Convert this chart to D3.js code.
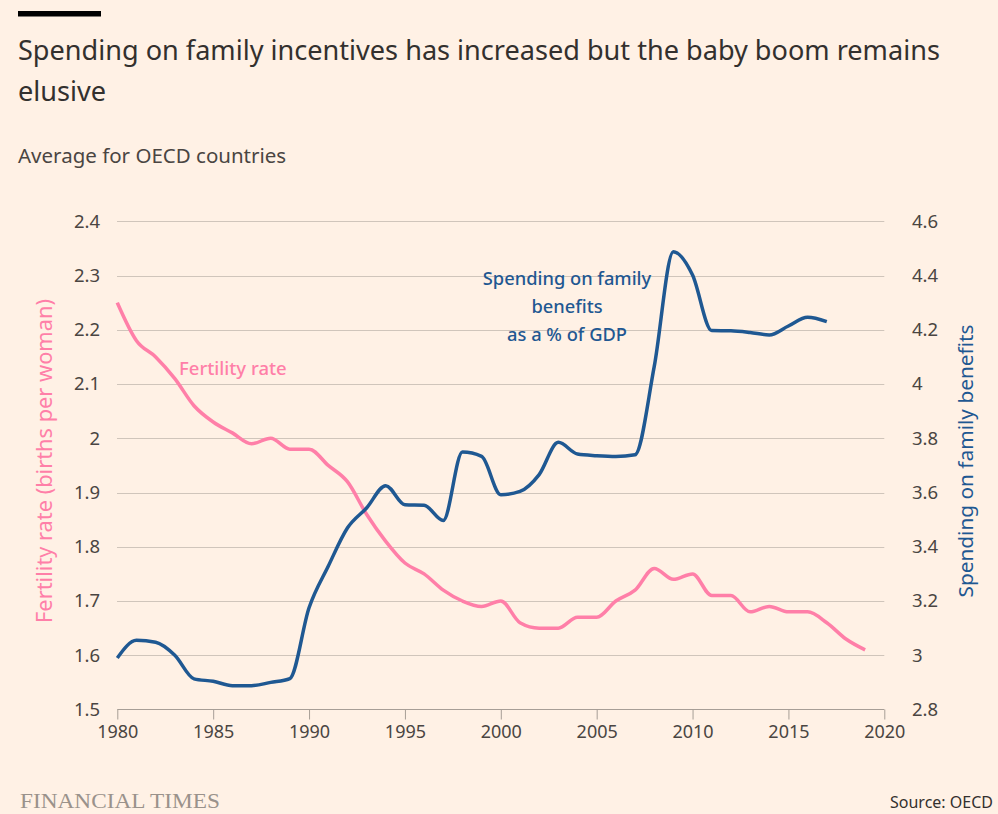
<!DOCTYPE html>
<html>
<head>
<meta charset="utf-8">
<script src="https://cdn.jsdelivr.net/npm/d3@7"></script>
<style>
  html, body { margin: 0; padding: 0; background: #fff1e5; }
  svg { display: block; }
</style>
</head>
<body>
<svg id="chart" width="998" height="814"></svg>
<script>
// ---- Data ----
const years = d3.range(1980, 2020);
const fertility = [2.25, 2.18, 2.15, 2.11, 2.06, 2.03, 2.01, 1.99, 2.00, 1.98,
                   1.98, 1.95, 1.92, 1.86, 1.81, 1.77, 1.75, 1.72, 1.70, 1.69,
                   1.70, 1.66, 1.65, 1.65, 1.67, 1.67, 1.70, 1.72, 1.76, 1.74,
                   1.75, 1.71, 1.71, 1.68, 1.69, 1.68, 1.68, 1.66, 1.63, 1.61];
const spendingYears = d3.range(1980, 2018);
const spending = [2.99, 3.055, 3.048, 3.00, 2.913, 2.904, 2.888, 2.888, 2.90, 2.914,
                  3.175, 3.328, 3.469, 3.543, 3.625, 3.555, 3.553, 3.497, 3.749, 3.733,
                  3.592, 3.604, 3.666, 3.785, 3.742, 3.736, 3.733, 3.739, 4.064, 4.488,
                  4.402, 4.197, 4.196, 4.19, 4.181, 4.214, 4.246, 4.23];
const xTicks = [1980, 1985, 1990, 1995, 2000, 2005, 2010, 2015, 2020];
const leftTicks = [1.5, 1.6, 1.7, 1.8, 1.9, 2.0, 2.1, 2.2, 2.3, 2.4];
const rightTicks = [2.8, 3.0, 3.2, 3.4, 3.6, 3.8, 4.0, 4.2, 4.4, 4.6];

const PINK = "#ff7fa8";
const BLUE = "#1f5892";
const TEXT = "#33302e";
const GRID = "#d0c5bb";
const AXIS = "#a79e96";
const SANS = "'Noto Sans', 'Open Sans', sans-serif";

const svg = d3.select("#chart");
svg.append("rect").attr("width", 998).attr("height", 814).attr("fill", "#fff1e5");

// Header
svg.append("rect").attr("x", 18).attr("y", 11).attr("width", 83).attr("height", 5.5).attr("fill", "#000");
svg.append("text").attr("x", 18).attr("y", 60).style("font-family", SANS).style("font-size", "27.1px").attr("fill", TEXT)
  .text("Spending on family incentives has increased but the baby boom remains");
svg.append("text").attr("x", 18).attr("y", 101).style("font-family", SANS).style("font-size", "27.1px").attr("fill", TEXT)
  .text("elusive");
svg.append("text").attr("x", 18).attr("y", 163).style("font-family", SANS).style("font-size", "20.5px").attr("fill", "#4a4542")
  .text("Average for OECD countries");

// Scales
const x = d3.scaleLinear().domain([1980, 2020]).range([117.3, 884.3]);
const yL = d3.scaleLinear().domain([1.5, 2.4]).range([709.5, 221.3]);
const yR = d3.scaleLinear().domain([2.8, 4.6]).range([709.5, 221.3]);

// Gridlines
svg.append("g").selectAll("line").data(leftTicks.slice(1)).join("line")
  .attr("x1", 117).attr("x2", 884.3)
  .attr("y1", d => Math.round(yL(d)) + 0.5).attr("y2", d => Math.round(yL(d)) + 0.5)
  .attr("stroke", GRID).attr("stroke-width", 1);

// Left axis labels
const leftAxis = d3.axisLeft(yL).tickValues(leftTicks).tickSize(0).tickPadding(0)
  .tickFormat(d => d3.format("")(+d.toFixed(1)));
const gL = svg.append("g").attr("transform", "translate(100,0)").call(leftAxis);
gL.select(".domain").remove();
gL.selectAll("text").style("font-size", "18.5px").attr("fill", "#4a4542").style("font-family", SANS);

// Right axis labels
const rightAxis = d3.axisRight(yR).tickValues(rightTicks).tickSize(0).tickPadding(0)
  .tickFormat(d => d3.format("")(+d.toFixed(1)));
const gR = svg.append("g").attr("transform", "translate(912,0)").call(rightAxis);
gR.select(".domain").remove();
gR.selectAll("text").style("font-size", "18.5px").attr("fill", "#4a4542").style("font-family", SANS);

// X axis
const xAxis = d3.axisBottom(x).tickValues(xTicks).tickSize(10).tickPadding(6).tickFormat(d3.format("d"));
const gX = svg.append("g").attr("transform", "translate(0,709.5)").call(xAxis);
gX.select(".domain").attr("stroke", AXIS).attr("d", "M117.3,0H884.3");
gX.selectAll(".tick line").attr("stroke", AXIS);
gX.selectAll("text").style("font-size", "18px").attr("fill", "#4a4542").style("font-family", SANS);

// Lines
const lineL = d3.line().x((d, i) => x(years[i])).y(d => yL(d)).curve(d3.curveMonotoneX);
const lineR = d3.line().x((d, i) => x(spendingYears[i])).y(d => yR(d)).curve(d3.curveMonotoneX);

svg.append("path").datum(fertility).attr("d", lineL)
  .attr("fill", "none").attr("stroke", PINK).attr("stroke-width", 3.5).attr("stroke-linejoin", "round");
svg.append("path").datum(spending).attr("d", lineR)
  .attr("fill", "none").attr("stroke", BLUE).attr("stroke-width", 3.5).attr("stroke-linejoin", "round");

// Annotations
svg.append("text").attr("x", 179).attr("y", 375).style("font-family", SANS).style("font-size", "18.5px")
  .style("font-weight", 500).attr("fill", PINK).text("Fertility rate");
const ann = svg.append("text").style("font-family", SANS).style("font-size", "18.3px").style("font-weight", 500)
  .attr("fill", BLUE).attr("text-anchor", "middle");
["Spending on family", "benefits", "as a % of GDP"].forEach((t, i) => {
  ann.append("tspan").attr("x", 567).attr("y", 285 + i * 28).text(t);
});

// Axis titles
svg.append("text").attr("transform", "translate(52,461) rotate(-90)")
  .attr("text-anchor", "middle").style("font-family", SANS).style("font-size", "21.8px").attr("fill", PINK)
  .text("Fertility rate (births per woman)");
svg.append("text").attr("transform", "translate(973,461) rotate(-90)")
  .attr("text-anchor", "middle").style("font-family", SANS).style("font-size", "20.8px").attr("fill", BLUE)
  .text("Spending on family benefits");

// Footer
svg.append("text").attr("x", 20).attr("y", 808)
  .style("font-family", "'Liberation Serif', 'DejaVu Serif', serif").style("font-size", "21px")
  .attr("fill", "#9a928b").attr("textLength", 200).attr("lengthAdjust", "spacingAndGlyphs").text("FINANCIAL TIMES");
svg.append("text").attr("x", 993).attr("y", 808).style("font-family", SANS).style("font-size", "16px")
  .attr("text-anchor", "end").attr("fill", TEXT).text("Source: OECD");
</script>
</body>
</html>
